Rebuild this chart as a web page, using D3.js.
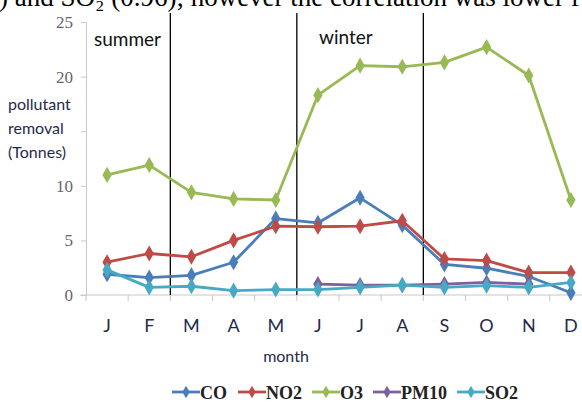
<!DOCTYPE html>
<html>
<head>
<meta charset="utf-8">
<script src="https://cdn.jsdelivr.net/npm/d3@7"></script>
<style>
  body { margin: 0; background: #fff; }
  svg { display: block; }
</style>
</head>
<body>
<svg width="582" height="403"></svg>
<script>
const months = ["J", "F", "M", "A", "M", "J", "J", "A", "S", "O", "N", "D"];
const yTicks = [0, 5, 10, 15, 20, 25];
const hiddenTickLabels = [15]; // covered by the axis title in the original
const seasonBreaks = [1.5, 4.5, 7.5]; // between F|M, M|J, A|S
const seasonLabels = ["summer", "winter"];

const co   = [1.9, 1.6, 1.8, 3.0, 7.0, 6.6, 8.9, 6.4, 2.8, 2.45, 1.7, 0.2];
const no2  = [3.0, 3.8, 3.5, 5.0, 6.3, 6.25, 6.3, 6.8, 3.3, 3.15, 2.05, 2.05];
const o3   = [11.0, 11.9, 9.4, 8.8, 8.7, 18.3, 21.0, 20.9, 21.3, 22.7, 20.1, 8.7];
const pm10 = [null, null, null, null, null, 1.0, 0.9, 0.9, 1.0, 1.15, 1.0, null];
const so2  = [2.3, 0.7, 0.8, 0.4, 0.5, 0.5, 0.7, 0.9, 0.7, 0.85, 0.7, 1.15];

const series = [
  { name: "CO",   values: co,   color: "#4a7ebb" },
  { name: "NO2",  values: no2,  color: "#be4b48" },
  { name: "O3",   values: o3,   color: "#98b954" },
  { name: "PM10", values: pm10, color: "#7d60a0" },
  { name: "SO2",  values: so2,  color: "#46aac5" }
];

const svg = d3.select("svg");
const plotL = 86, plotR = 592, plotT = 22, plotB = 295;
const sans = "Lato, Open Sans, sans-serif";
const serif = "Liberation Serif, Times New Roman, serif";

// caption text of the page above the figure, cut by the crop
svg.append("text")
  .attr("x", -1).attr("y", 6)
  .attr("font-family", serif)
  .attr("font-size", "27px")
  .attr("fill", "#000")
  .text(") and SO\u2082 (0.96); however the correlation was lower f");

const x = d3.scaleBand().domain(d3.range(months.length)).range([plotL, plotR]);
const y = d3.scaleLinear().domain([0, 25]).range([plotB, plotT]);
const xc = i => x(i) + x.bandwidth() / 2;

// axes
const yAxis = svg.append("g")
  .attr("transform", `translate(${plotL},0)`)
  .call(d3.axisLeft(y).tickValues(yTicks).tickSize(5).tickPadding(8)
    .tickFormat(d => hiddenTickLabels.includes(d) ? "" : d));
yAxis.select(".domain").attr("stroke", "#c8c8c8");
yAxis.selectAll("line").attr("stroke", "#c8c8c8");
yAxis.selectAll("text")
  .attr("font-family", serif)
  .attr("font-size", "17px")
  .attr("fill", "#666");

const xAxis = svg.append("g")
  .attr("transform", `translate(0,${plotB})`);
xAxis.append("line")
  .attr("x1", plotL - 6).attr("x2", 582)
  .attr("stroke", "#c8c8c8");
xAxis.selectAll(".tk")
  .data(d3.range(months.length + 1))
  .enter().append("line")
  .attr("x1", i => plotL + i * x.step())
  .attr("x2", i => plotL + i * x.step())
  .attr("y1", 0).attr("y2", 6)
  .attr("stroke", "#c8c8c8");
xAxis.selectAll(".lbl")
  .data(months)
  .enter().append("text")
  .attr("x", (d, i) => xc(i))
  .attr("y", 37)
  .attr("text-anchor", "middle")
  .attr("font-family", sans)
  .attr("font-size", "18px")
  .attr("fill", "#1f2a4a")
  .text(d => d);

// season separators
svg.selectAll(".sep")
  .data(seasonBreaks)
  .enter().append("line")
  .attr("x1", d => x(Math.floor(d)) + x.bandwidth())
  .attr("x2", d => x(Math.floor(d)) + x.bandwidth())
  .attr("y1", 13).attr("y2", plotB)
  .attr("stroke", "#000")
  .attr("stroke-width", 1.3);

svg.append("text").attr("x", 94).attr("y", 46)
  .attr("font-family", sans)
  .attr("font-size", "19px").attr("fill", "#111")
  .text(seasonLabels[0]);
svg.append("text").attr("x", 319).attr("y", 44)
  .attr("font-family", sans)
  .attr("font-size", "19px").attr("fill", "#111")
  .text(seasonLabels[1]);

// y axis title
svg.append("text")
  .attr("font-family", sans)
  .attr("font-size", "16px").attr("fill", "#1f2a4a")
  .selectAll("tspan")
  .data(["pollutant", "removal", "(Tonnes)"])
  .enter().append("tspan")
  .attr("x", 8)
  .attr("y", (d, i) => 110 + i * 24)
  .text(d => d);

svg.append("text").attr("x", 286).attr("y", 362)
  .attr("text-anchor", "middle")
  .attr("font-family", sans)
  .attr("font-size", "16px").attr("fill", "#1f2a4a")
  .text("month");

// lines
const line = d3.line()
  .defined(d => d != null)
  .x((d, i) => xc(i))
  .y(d => y(d));

const diamond = d3.symbol().type(d3.symbolDiamond).size(75);

series.forEach(s => {
  svg.append("path")
    .attr("d", line(s.values))
    .attr("fill", "none")
    .attr("stroke", s.color)
    .attr("stroke-width", 2.8)
    .attr("stroke-linejoin", "round");
  svg.selectAll(null)
    .data(s.values.map((v, i) => ({ v, i })).filter(d => d.v != null))
    .enter().append("path")
    .attr("d", diamond)
    .attr("transform", d => `translate(${xc(d.i)},${y(d.v)})`)
    .attr("fill", s.color);
});

// legend
const legendX = [172, 238, 312, 373, 457];
const lg = svg.selectAll(".lg")
  .data(series)
  .enter().append("g")
  .attr("transform", (d, i) => `translate(${legendX[i]},392)`);
lg.append("line")
  .attr("x1", 0).attr("x2", 28)
  .attr("stroke", d => d.color).attr("stroke-width", 2.8);
lg.append("path")
  .attr("d", d3.symbol().type(d3.symbolDiamond).size(45))
  .attr("transform", "translate(14,0)")
  .attr("fill", d => d.color);
lg.append("text")
  .attr("x", 28).attr("y", 6.5)
  .attr("font-family", serif)
  .attr("font-weight", "bold")
  .attr("font-size", "18px")
  .attr("fill", "#222")
  .text(d => d.name);
</script>
</body>
</html>
